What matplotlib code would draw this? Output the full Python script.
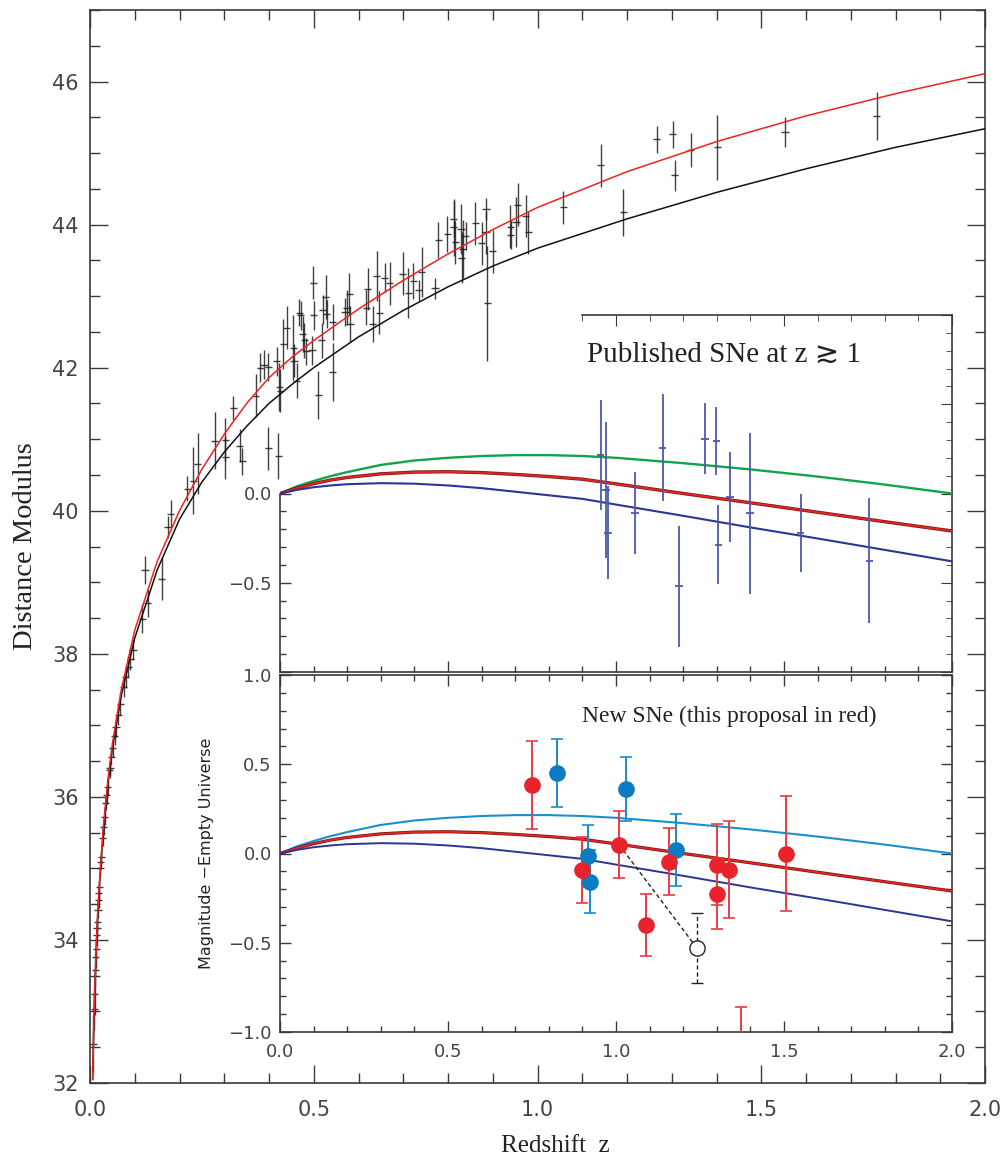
import numpy as np
import matplotlib.pyplot as plt
from matplotlib.ticker import MultipleLocator, FixedLocator, FuncFormatter

# ---- Hubble diagram: supernova distance moduli ----
z_sn = [0.0075, 0.0095, 0.0104, 0.0121, 0.0132, 0.0139, 0.0152, 0.0158, 0.0165,
        0.0179, 0.0191, 0.0199, 0.0208, 0.0234, 0.0244, 0.0252, 0.0284, 0.0305,
        0.0326, 0.0355, 0.0374, 0.0395, 0.0447, 0.0439, 0.048, 0.0507, 0.0549,
        0.0582, 0.063, 0.0675, 0.075, 0.080, 0.086, 0.090, 0.096, 0.117, 0.129,
        0.123, 0.160, 0.180, 0.174, 0.217, 0.231, 0.241, 0.279, 0.302, 0.302,
        0.320, 0.335, 0.340, 0.370, 0.398, 0.421, 0.381, 0.389, 0.398, 0.417,
        0.423, 0.425, 0.432, 0.440, 0.454, 0.456, 0.462, 0.468, 0.471, 0.475,
        0.479, 0.483, 0.496, 0.510, 0.518, 0.542,
        0.499, 0.527, 0.520, 0.500, 0.529, 0.542, 0.574, 0.579, 0.581, 0.570,
        0.621, 0.617, 0.641, 0.646, 0.632, 0.659, 0.670, 0.699, 0.711, 0.722,
        0.735, 0.741, 0.771, 0.778, 0.798, 0.813, 0.813, 0.816, 0.829, 0.833,
        0.831, 0.840, 0.861, 0.875, 0.885, 0.885, 0.888, 0.900, 0.939, 0.940,
        0.952, 0.956, 0.974, 0.979,
        1.058, 1.141, 1.192, 1.266, 1.302, 1.307, 1.342, 1.402, 1.553, 1.758]
mu_sn = [32.55, 33.04, 33.25, 33.58, 33.76, 33.88, 34.07, 34.16, 34.25,
         34.42, 34.56, 34.65, 34.74, 35.00, 35.09, 35.16, 35.42, 35.58,
         35.72, 35.91, 36.02, 36.14, 36.41, 36.37, 36.56, 36.68, 36.85,
         36.98, 37.15, 37.30, 37.54, 37.67, 37.82, 37.93, 38.06, 38.49, 38.71,
         39.17, 39.05, 39.96, 39.77, 40.31, 40.42, 40.66, 40.98, 40.99, 40.75,
         41.44, 40.91, 40.69, 41.61, 40.87, 40.77, 42.00, 42.04, 42.01, 42.09,
         41.73, 41.68, 42.33, 42.56, 42.28, 42.10, 41.82, 42.77, 42.73, 42.47,
         42.38, 42.23, 42.24, 41.62, 42.38, 41.94,
         43.19, 42.99, 42.81, 42.73, 42.75, 42.64, 42.84, 43.03, 42.61, 42.78,
         43.10, 42.84, 43.28, 42.77, 42.61, 43.26, 43.18, 43.31, 43.04, 43.21,
         43.08, 43.34, 43.11, 43.79, 43.87, 43.96, 44.08, 43.75, 43.94, 43.66,
         43.54, 43.84, 44.02, 43.74, 44.22, 43.89, 42.90, 43.63, 43.97, 43.86,
         44.03, 44.28, 44.12, 43.89,
         44.24, 44.83, 44.17, 45.19, 45.26, 44.69, 45.04, 45.08, 45.29, 45.52]
mu_err = [0.40, 0.30, 0.30, 0.22, 0.15, 0.15, 0.15, 0.12, 0.12,
          0.12, 0.12, 0.10, 0.10, 0.10, 0.10, 0.10, 0.10, 0.12,
          0.12, 0.10, 0.12, 0.12, 0.10, 0.10, 0.12, 0.12, 0.12,
          0.15, 0.15, 0.15, 0.15, 0.15, 0.15, 0.15, 0.15, 0.20, 0.20,
          0.20, 0.30, 0.19, 0.15, 0.17, 0.47, 0.43, 0.40, 0.30, 0.30,
          0.17, 0.23, 0.19, 0.30, 0.30, 0.32, 0.20, 0.20, 0.20, 0.20,
          0.33, 0.30, 0.35, 0.30, 0.45, 0.23, 0.25, 0.19, 0.20, 0.25,
          0.25, 0.19, 0.20, 0.34, 0.25, 0.40,
          0.23, 0.31, 0.20, 0.20, 0.20, 0.25, 0.25, 0.30, 0.25, 0.20,
          0.30, 0.25, 0.35, 0.30, 0.25, 0.20, 0.30, 0.30, 0.35, 0.25,
          0.15, 0.35, 0.15, 0.25, 0.25, 0.40, 0.25, 0.30, 0.35, 0.40,
          0.35, 0.20, 0.30, 0.30, 0.15, 0.30, 0.80, 0.30, 0.30, 0.20,
          0.35, 0.30, 0.30, 0.30,
          0.23, 0.30, 0.33, 0.19, 0.19, 0.22, 0.24, 0.45, 0.21, 0.34]

# model curves of the main panel
z_model = [0.006, 0.008, 0.01, 0.015, 0.02, 0.03, 0.04, 0.05, 0.07, 0.1, 0.15,
           0.2, 0.25, 0.3, 0.35, 0.4, 0.45, 0.5, 0.6, 0.7, 0.8, 0.9, 1.0, 1.2,
           1.4, 1.6, 1.8, 2.0]
mu_accel = [32.05, 32.68, 33.18, 34.07, 34.70, 35.60, 36.24, 36.74, 37.50,
            38.33, 39.29, 40.00, 40.58, 41.07, 41.50, 41.86, 42.14, 42.38,
            42.82, 43.22, 43.59, 43.93, 44.24, 44.74, 45.16, 45.52, 45.83,
            46.11]
mu_decel = [32.05, 32.67, 33.16, 34.04, 34.66, 35.55, 36.18, 36.68, 37.42,
            38.22, 39.17, 39.88, 40.40, 40.82, 41.18, 41.50, 41.76, 42.00,
            42.43, 42.80, 43.13, 43.42, 43.67, 44.08, 44.45, 44.78, 45.08,
            45.34]

# residual curves (magnitude minus empty universe)
z_res = [0.0, 0.05, 0.1, 0.15, 0.2, 0.3, 0.4, 0.5, 0.6, 0.7, 0.8, 0.9, 1.0,
         1.2, 1.4, 1.6, 1.8, 2.0]
res_high = [0.0, 0.04, 0.07, 0.097, 0.12, 0.16, 0.185, 0.20, 0.21, 0.215,
            0.215, 0.21, 0.20, 0.17, 0.135, 0.095, 0.05, 0.0]
res_mid = [0.0, 0.03, 0.055, 0.075, 0.09, 0.11, 0.12, 0.122, 0.117, 0.107,
           0.095, 0.08, 0.054, 0.0, -0.052, -0.105, -0.158, -0.21]
res_low = [0.0, 0.02, 0.035, 0.045, 0.052, 0.058, 0.055, 0.045, 0.03, 0.01,
           -0.01, -0.03, -0.062, -0.125, -0.19, -0.252, -0.316, -0.38]

# published SNe at z > ~1
z_pub = [0.954, 0.970, 0.976, 1.056, 1.139, 1.188, 1.265, 1.299, 1.305, 1.339,
         1.399, 1.550, 1.754]
dm_pub = [0.215, 0.019, -0.22, -0.108, 0.257, -0.52, 0.307, 0.294, -0.287,
          -0.019, -0.112, -0.22, -0.376]
err_pub = [0.31, 0.38, 0.26, 0.23, 0.30, 0.34, 0.20, 0.19, 0.22, 0.25, 0.45,
           0.22, 0.35]

# new SNe: this proposal (red) and others (blue)
z_new_red = [0.749, 0.898, 1.009, 1.088, 1.158, 1.302, 1.302, 1.336, 1.506, 1.372]
dm_new_red = [0.385, -0.09, 0.05, -0.40, -0.045, -0.062, -0.225, -0.09, 0.0, -1.10]
err_new_red = [0.245, 0.185, 0.19, 0.175, 0.19, 0.225, 0.20, 0.27, 0.32, 0.24]

z_new_blue = [0.823, 0.917, 0.923, 1.029, 1.179]
dm_new_blue = [0.453, -0.015, -0.157, 0.36, 0.02]
err_new_blue = [0.19, 0.175, 0.175, 0.18, 0.20]

# shifted position of one red SN (open circle)
z_shift = [1.241]
dm_shift = [-0.53]
err_shift = [0.195]

tick_col = '#3a3a3a'
sans = ['DejaVu Sans']
serif = ['Liberation Serif', 'DejaVu Serif', 'DejaVu Sans']
fmt1 = FuncFormatter(lambda v, p: ('%.1f' % v).replace('-', '\u2212'))

fig = plt.figure(figsize=(10.05, 11.63), dpi=100)

# ---------------- main panel ----------------
ax = fig.add_axes([90/1005, 80/1163, 895/1005, 1073/1163])
ax.errorbar(z_sn, mu_sn, yerr=mu_err, xerr=0.008, fmt='none',
            ecolor='#1e1e1e', elinewidth=1.0, alpha=0.85, zorder=3)
ax.plot(z_model, mu_decel, color='#111111', lw=1.1, zorder=4)
ax.plot(z_model, mu_accel, color='#ee2222', lw=1.1, zorder=4)
ax.set_xlim(0, 2.0)
ax.set_ylim(32, 47)
ax.xaxis.set_major_locator(MultipleLocator(0.5))
ax.xaxis.set_minor_locator(MultipleLocator(0.1))
ax.xaxis.set_major_formatter(fmt1)
ax.yaxis.set_major_locator(MultipleLocator(2))
ax.yaxis.set_minor_locator(MultipleLocator(0.5))
ax.tick_params(which='both', direction='in', top=True, right=True,
               color=tick_col, width=1.0)
ax.tick_params(which='major', length=13)
ax.tick_params(which='minor', length=7)
ax.tick_params(axis='x', pad=12, labelsize=15, labelcolor='#444444')
ax.tick_params(axis='y', pad=8, labelsize=15, labelcolor='#444444')
for s in ax.spines.values():
    s.set_color(tick_col)
    s.set_linewidth(1.2)
ax.set_xlabel('Redshift  z', fontsize=18, family=serif, color='#222222')
ax.set_ylabel('Distance Modulus', fontsize=20.5, family=serif, color='#222222',
              labelpad=10)
ax.xaxis.set_label_coords(0.52, -0.048)

green = '#11a44a'
red = '#e02525'
navy = '#2b3594'
cyan = '#1a8fd0'


def inset_style(a):
    a.set_xlim(0, 2.0)
    a.set_ylim(-1.0, 1.0)
    a.patch.set_alpha(0)
    a.xaxis.set_minor_locator(MultipleLocator(0.1))
    a.tick_params(which='both', direction='in', color=tick_col, width=1.0,
                  labelsize=13, labelcolor='#444444')
    a.tick_params(which='major', length=8)
    a.tick_params(which='minor', length=4.5)
    for s in a.spines.values():
        s.set_color(tick_col)
        s.set_linewidth(1.2)


# ---------------- upper inset: published SNe ----------------
ax_up = fig.add_axes([280/1005, 491/1163, 672/1005, 357/1163])
inset_style(ax_up)
ax_up.plot(z_res, res_high, color=green, lw=1.7, zorder=3)
ax_up.plot(z_res, res_mid, color='#7a1515', lw=2.4, zorder=3)
ax_up.plot(z_res, res_mid, color=red, lw=1.4, zorder=3)
ax_up.plot(z_res, res_low, color=navy, lw=1.5, zorder=3)
ax_up.errorbar(z_pub, dm_pub, yerr=err_pub, xerr=0.011, fmt='none',
               ecolor='#4e58ac', elinewidth=1.3, zorder=4)
ax_up.spines['top'].set_visible(False)
ax_up.spines['right'].set_visible(False)
ax_up.spines['left'].set_bounds(-1.0, 0.0)
ax_up.xaxis.set_major_locator(MultipleLocator(0.5))
ax_up.tick_params(axis='x', which='both', top=False, labelbottom=False)
ax_up.yaxis.set_major_locator(FixedLocator([-1.0, -0.5, 0.0]))
ax_up.yaxis.set_minor_locator(FixedLocator([-0.9, -0.8, -0.7, -0.6, -0.4,
                                            -0.3, -0.2, -0.1]))
ax_up.yaxis.set_major_formatter(
    FuncFormatter(lambda v, p: '' if v < -0.75 else fmt1(v, p)))
ax_up.tick_params(axis='y', which='both', right=False, pad=6)
sx = ax_up.secondary_xaxis('top')
sx.xaxis.set_major_locator(FixedLocator([1.0, 1.5, 2.0]))
sx.xaxis.set_minor_locator(FixedLocator([0.9, 1.1, 1.2, 1.3, 1.4, 1.6, 1.7,
                                         1.8, 1.9]))
sx.tick_params(which='both', direction='in', color=tick_col, labeltop=False)
sx.tick_params(which='major', length=8)
sx.tick_params(which='minor', length=4.5)
sx.spines['top'].set_bounds(0.9, 2.0)
sx.spines['top'].set_color(tick_col)
sx.spines['top'].set_linewidth(1.2)
sy = ax_up.secondary_yaxis('right')
sy.yaxis.set_major_locator(MultipleLocator(0.5))
sy.yaxis.set_minor_locator(MultipleLocator(0.1))
sy.tick_params(which='both', direction='in', color=tick_col, labelright=False)
sy.tick_params(which='major', length=8)
sy.tick_params(which='minor', length=4.5)
sy.spines['right'].set_color(tick_col)
sy.spines['right'].set_linewidth(1.2)
ax_up.text(0.915, 0.74, 'Published SNe at z \u2273 1', fontsize=21,
           family=serif, color='#222222')

# ---------------- lower inset: new SNe ----------------
ax_lo = fig.add_axes([280/1005, 131/1163, 672/1005, 357/1163])
inset_style(ax_lo)
ax_lo.plot(z_res, res_high, color=cyan, lw=1.5, zorder=3)
ax_lo.plot(z_res, res_mid, color='#7a1515', lw=2.3, zorder=3)
ax_lo.plot(z_res, res_mid, color=red, lw=1.3, zorder=3)
ax_lo.plot(z_res, res_low, color=navy, lw=1.4, zorder=3)
ax_lo.plot([z_new_red[2], z_shift[0]], [dm_new_red[2], dm_shift[0]],
           color='#222222', ls=(0, (3, 2)), lw=1.0, zorder=4)
shift = ax_lo.errorbar(z_shift, dm_shift, yerr=err_shift, fmt='o', ms=11,
                       mfc='white', mec='#222222', ecolor='#222222',
                       elinewidth=1.0, capsize=4, capthick=1.0, zorder=5)
shift.lines[0].set_markeredgewidth(1.0)
for coll in shift.lines[2]:
    coll.set_linestyle((0, (3, 2)))
ax_lo.errorbar(z_new_blue, dm_new_blue, yerr=err_new_blue, fmt='o', ms=11,
               color='#0b7cc1', ecolor='#1a8bcc', elinewidth=1.4,
               capsize=4, capthick=1.2, zorder=6)
ax_lo.errorbar(z_new_red, dm_new_red, yerr=err_new_red, fmt='o', ms=11,
               color='#e8232b', ecolor='#ea3b42', elinewidth=1.4,
               capsize=4, capthick=1.2, zorder=6)
ax_lo.xaxis.set_major_locator(MultipleLocator(0.5))
ax_lo.yaxis.set_major_locator(MultipleLocator(0.5))
ax_lo.yaxis.set_minor_locator(MultipleLocator(0.1))
ax_lo.xaxis.set_major_formatter(fmt1)
ax_lo.yaxis.set_major_formatter(fmt1)
ax_lo.tick_params(which='both', top=True, right=True)
ax_lo.tick_params(axis='x', pad=8)
ax_lo.tick_params(axis='y', pad=6)
ax_lo.set_ylabel('Magnitude \u2212Empty Universe', fontsize=11.5,
                 family=sans, color='#222222', labelpad=10)
ax_lo.text(0.9, 0.736, 'New SNe (this proposal in red)', fontsize=17,
           family=serif, color='#222222')

fig.savefig('out.png', dpi=100)
